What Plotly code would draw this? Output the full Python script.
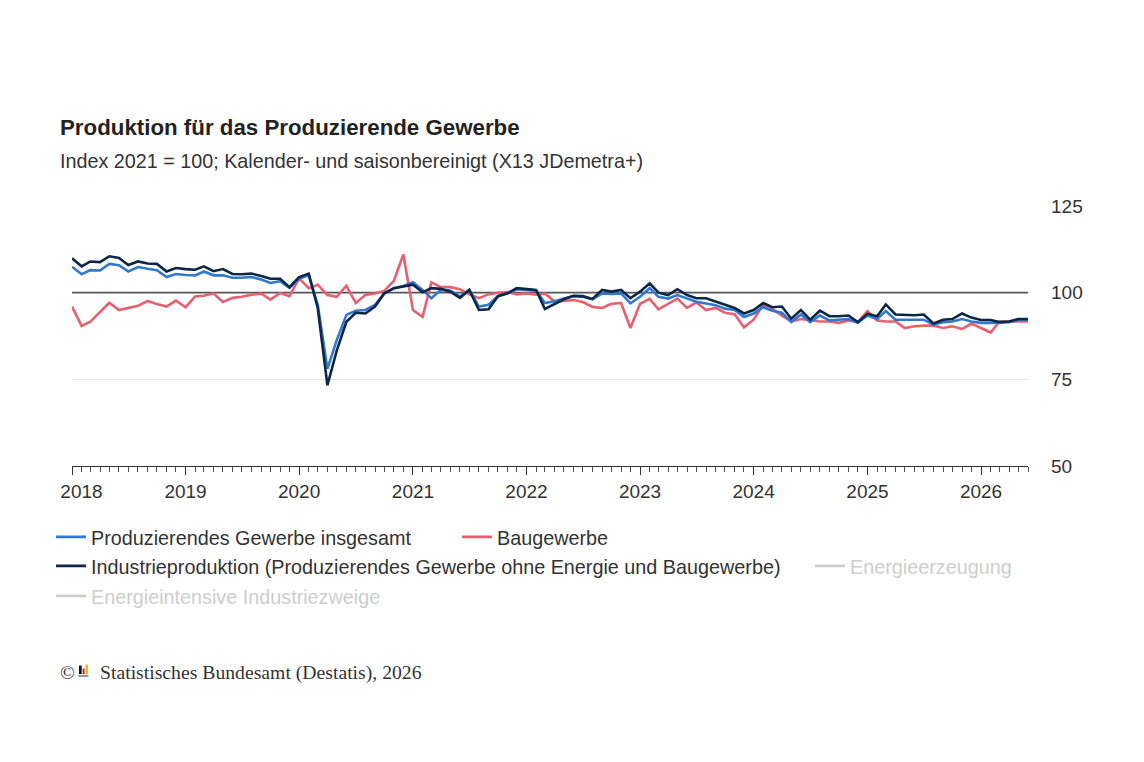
import pandas as pd
import plotly.graph_objects as go

months = pd.date_range("2018-01-01", periods=102, freq="MS")

produzierendes_gewerbe = [
    107.5, 105.3, 106.5, 106.4, 108.3, 107.9, 106.1, 107.4, 106.9, 106.5, 104.5, 105.4,
    105.1, 105.0, 106.1, 105.0, 105.0, 104.3, 104.3, 104.5, 103.8, 102.8, 103.3, 101.4,
    104.0, 105.0, 96.5, 78.0, 86.3, 93.6, 94.8, 95.0, 96.5, 99.8, 101.3, 101.9,
    103.0, 100.8, 98.4, 100.8, 100.6, 98.9, 100.8, 96.0, 96.5, 99.0, 99.8, 101.0,
    100.8, 100.6, 97.0, 97.5, 98.3, 99.0, 98.8, 98.1, 99.8, 99.6, 99.8, 96.9,
    98.8, 101.3, 98.8, 98.3, 99.3, 98.3, 97.4, 96.9, 96.4, 95.4, 95.0, 93.0,
    94.0, 95.8, 94.8, 94.2, 91.5, 93.7, 91.5, 93.4, 92.0, 92.2, 92.4, 91.3,
    93.4, 92.4, 94.7, 92.2, 92.2, 92.2, 92.2, 90.8, 91.5, 91.7, 92.4, 91.7,
    91.3, 91.3, 91.3, 91.5, 92.2, 92.2,
]

baugewerbe = [
    96.0, 90.4, 91.6, 94.5, 97.1, 95.0, 95.5, 96.2, 97.6, 96.7, 96.0, 97.7,
    95.8, 98.9, 99.1, 99.8, 97.3, 98.5, 98.8, 99.4, 99.7, 98.0, 99.9, 99.0,
    104.1, 101.3, 102.3, 99.3, 98.8, 102.0, 97.0, 99.3, 99.8, 100.5, 103.5, 111.0,
    95.0, 93.0, 103.0, 101.6, 101.6, 101.0, 99.5, 98.4, 99.5, 100.0, 100.2, 99.5,
    99.8, 99.4, 99.7, 97.5, 97.6, 97.9, 97.3, 95.9, 95.6, 96.8, 97.0, 89.8,
    96.8, 98.2, 95.2, 96.9, 98.3, 95.6, 97.2, 95.0, 95.6, 94.2, 93.8, 90.0,
    92.2, 96.6, 95.3, 93.4, 91.7, 92.4, 92.0, 91.7, 91.7, 91.3, 92.0, 91.5,
    94.7, 92.0, 91.7, 91.7, 89.8, 90.3, 90.5, 90.5, 89.8, 90.3, 89.5, 91.1,
    89.8, 88.5, 91.7, 91.7, 91.7, 91.7,
]

industrieproduktion = [
    109.9, 107.6, 109.0, 108.8, 110.5, 110.0, 108.0, 109.0, 108.4, 108.3, 106.1, 107.1,
    106.8, 106.6, 107.6, 106.2, 106.8, 105.4, 105.3, 105.5, 104.8, 104.0, 104.0, 101.6,
    104.5, 105.5, 95.5, 73.3, 83.3, 91.6, 94.2, 94.0, 96.0, 99.8, 101.3, 101.8,
    102.3, 100.1, 101.3, 101.1, 100.3, 98.5, 100.8, 95.0, 95.2, 99.0, 99.8, 101.3,
    101.1, 100.8, 95.3, 96.8, 98.1, 99.1, 99.0, 98.2, 100.8, 100.3, 100.8, 98.4,
    100.3, 102.7, 100.0, 99.3, 101.0, 99.3, 98.4, 98.4, 97.4, 96.4, 95.6, 94.0,
    95.0, 97.0, 95.8, 96.0, 92.5, 95.0, 92.2, 94.8, 93.2, 93.2, 93.4, 91.5,
    93.9, 93.2, 96.6, 93.7, 93.5, 93.5, 93.7, 91.1, 92.2, 92.4, 94.0, 92.8,
    92.1, 92.1, 91.5, 91.7, 92.4, 92.4,
]

# series switched off in the original chart (values not shown)
energieerzeugung = [None] * len(months)
energieintensive = [None] * len(months)

x_tick_vals = ["2018-01-01", "2019-01-01", "2020-01-01", "2021-01-01", "2022-01-01",
               "2023-01-01", "2024-01-01", "2025-01-01", "2026-01-01"]
# first label is nudged right (kept inside the plot area, as in the original)
x_tick_text = ["\u2002\u20022018", "2019", "2020", "2021", "2022",
               "2023", "2024", "2025", "2026"]
y_ticks = [50, 75, 100, 125]
y_light_grid = [75, 125]
reference_value = 100
x_start = "2018-01-01"
x_end = "2026-06-01"

title = "Produktion für das Produzierende Gewerbe"
subtitle = "Index 2021 = 100; Kalender- und saisonbereinigt (X13 JDemetra+)"
source = "Statistisches Bundesamt (Destatis), 2026"

FONT = "Liberation Sans, Arial, sans-serif"
SERIF = "Liberation Serif, Times New Roman, serif"
TEXT = "#333333"

# pixel helpers for the plot area (x 72..1028, y 206..466 on the page)
def px_x(px):
    return (px - 72) / 956.0

def px_y(py):
    return (466 - py) / 260.0

fig = go.Figure()

visible_series = [
    ("Baugewerbe", baugewerbe, "#e8606f", "legend2"),
    ("Produzierendes Gewerbe insgesamt", produzierendes_gewerbe, "#3178d0", "legend"),
    ("Industrieproduktion (Produzierendes Gewerbe ohne Energie und Baugewerbe)",
     industrieproduktion, "#0c2647", "legend3"),
]
for name, vals, color, leg in visible_series:
    fig.add_trace(go.Scatter(
        x=months, y=vals, mode="lines", name=name, legend=leg,
        line=dict(color=color, width=2.6),
        hovertemplate="%{x|%b %Y}: %{y:.1f}<extra></extra>",
    ))

for hidden_name, vals, leg in [("Energieerzeugung", energieerzeugung, "legend4"),
                               ("Energieintensive Industriezweige", energieintensive, "legend5")]:
    fig.add_trace(go.Scatter(
        x=months, y=vals, mode="lines", legend=leg,
        name="<span style='color:#9c9c9c'>" + hidden_name + "</span>",
        line=dict(color="#9c9c9c", width=2.6),
        visible="legendonly",
    ))

fig.add_hline(y=reference_value, line=dict(color="#555555", width=1.6), layer="below")

fig.update_xaxes(
    type="date",
    range=[x_start, x_end],
    tickmode="array", tickvals=x_tick_vals, ticktext=x_tick_text,
    ticks="outside", ticklen=8, tickwidth=1, tickcolor="#333333",
    minor=dict(tick0=x_start, dtick="M1", ticks="outside", ticklen=5,
               tickcolor="#555555", showgrid=False),
    showline=True, linecolor="#333333", linewidth=1.2,
    showgrid=False, zeroline=False,
    tickfont=dict(family=FONT, size=19, color=TEXT),
    fixedrange=True,
)
fig.update_yaxes(
    range=[50, 125],
    tickmode="array", tickvals=y_ticks,
    side="right",
    showgrid=False,
    minor=dict(tickmode="array", tickvals=y_light_grid, ticks="",
               showgrid=True, gridcolor="#e6e6e6", gridwidth=1),
    zeroline=False, showline=False, ticks="",
    ticklabelstandoff=22,
    tickfont=dict(family=FONT, size=19, color=TEXT),
    fixedrange=True,
)

fig.add_annotation(
    text="<b>" + title + "</b>", xref="paper", yref="paper",
    x=px_x(58), y=px_y(128), xanchor="left", yanchor="middle", showarrow=False,
    font=dict(family=FONT, size=22.3, color="#222222"),
)
fig.add_annotation(
    text=subtitle, xref="paper", yref="paper",
    x=px_x(58), y=px_y(161), xanchor="left", yanchor="middle", showarrow=False,
    font=dict(family=FONT, size=19.75, color=TEXT),
)
fig.add_annotation(
    text="©", xref="paper", yref="paper",
    x=px_x(58), y=px_y(672), xanchor="left", yanchor="middle", showarrow=False,
    font=dict(family=SERIF, size=19.7, color=TEXT),
)
fig.add_annotation(
    text=source, xref="paper", yref="paper",
    x=px_x(98), y=px_y(672), xanchor="left", yanchor="middle", showarrow=False,
    font=dict(family=SERIF, size=19.7, color=TEXT),
)

# small Destatis logo (decoration)
for x0, x1, y0, y1, col in [
    (79, 81.7, 665.5, 674, "#111111"),
    (82.6, 84.6, 668.5, 674, "#d0202a"),
    (85.6, 88, 664.5, 674, "#f2b705"),
    (78.5, 88.5, 674.8, 677, "#9a9a9a"),
]:
    fig.add_shape(type="rect", xref="paper", yref="paper",
                  x0=px_x(x0), x1=px_x(x1), y0=px_y(y1), y1=px_y(y0),
                  fillcolor=col, line=dict(width=0))

legend_common = dict(
    orientation="h", xanchor="left", yanchor="middle",
    font=dict(family=FONT, size=19.8, color=TEXT),
    bgcolor="rgba(0,0,0,0)", borderwidth=0,
)

fig.update_layout(
    width=1144, height=762,
    margin=dict(l=64, r=124, t=198, b=304),
    paper_bgcolor="white", plot_bgcolor="white",
    font=dict(family=FONT, color=TEXT),
    showlegend=True,
    legend=dict(x=px_x(51), y=px_y(537), **legend_common),
    legend2=dict(x=px_x(457), y=px_y(537), **legend_common),
    legend3=dict(x=px_x(51), y=px_y(566), **legend_common),
    legend4=dict(x=px_x(810), y=px_y(566), **legend_common),
    legend5=dict(x=px_x(51), y=px_y(596), **legend_common),
    hovermode="closest",
)

fig.write_html("out.html")
